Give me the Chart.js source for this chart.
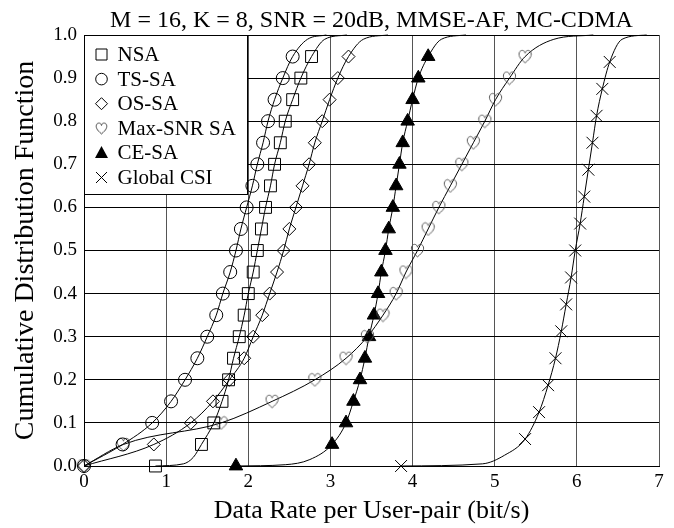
<!DOCTYPE html>
<html><head><meta charset="utf-8">
<script src="https://cdn.jsdelivr.net/npm/chart.js@4.4.1/dist/chart.umd.min.js"></script>
<style>html,body{margin:0;padding:0;background:#fff}#wrap{width:674px;height:528px}</style>
</head><body><div id="wrap"><canvas id="c" width="674" height="528"></canvas></div>
<script>
const titleText = 'M = 16, K = 8, SNR = 20dB, MMSE-AF, MC-CDMA';
const xTitle = 'Data Rate per User-pair (bit/s)';
const yTitle = 'Cumulative Distribution Function';
const xTickLabels = ['0','1','2','3','4','5','6','7'];
const yTickLabels = ['0.0','0.1','0.2','0.3','0.4','0.5','0.6','0.7','0.8','0.9','1.0'];
const seriesNames = ['NSA','TS-SA','OS-SA','Max-SNR SA','CE-SA','Global CSI'];

// CDF levels at which the markers sit
const cdfLevels = [0,0.05,0.1,0.15,0.2,0.25,0.3,0.35,0.4,0.45,0.5,0.55,0.6,0.65,0.7,0.75,0.8,0.85,0.9,0.95];
const globalLevels = [0,0.0625,0.125,0.1875,0.25,0.3125,0.375,0.4375,0.5,0.5625,0.625,0.6875,0.75,0.8125,0.875,0.9375];

// rates (bit/s) at the marker levels
const nsaRate    = [0.87,1.43,1.58,1.68,1.76,1.82,1.89,1.95,2.00,2.06,2.11,2.16,2.21,2.27,2.32,2.39,2.45,2.54,2.64,2.77];
const tsRate     = [0,0.47,0.83,1.06,1.23,1.38,1.50,1.61,1.69,1.78,1.85,1.91,1.98,2.05,2.11,2.18,2.24,2.32,2.42,2.54];
const osRate     = [0,0.85,1.30,1.57,1.77,1.95,2.06,2.17,2.26,2.35,2.43,2.50,2.58,2.66,2.74,2.81,2.90,2.99,3.09,3.22];
const maxSnrRate = [0,0.48,1.67,2.29,2.81,3.19,3.45,3.64,3.80,3.92,4.06,4.19,4.32,4.46,4.60,4.74,4.88,5.01,5.18,5.37];
const ceRate     = [1.85,3.02,3.19,3.28,3.36,3.42,3.47,3.53,3.58,3.62,3.67,3.71,3.76,3.80,3.84,3.88,3.94,4.00,4.07,4.19];
const globalRate = [3.86,5.37,5.54,5.65,5.74,5.81,5.87,5.93,5.98,6.04,6.09,6.14,6.19,6.24,6.31,6.40];

// unmarked tail points of each curve (rate, cdf)
const nsaTailRate = [1.21,1.33,2.93,3.20];      const nsaTailCdf = [0.005,0.02,0.99,1.0];
const tsTailRate = [2.72,2.95];                 const tsTailCdf = [0.99,1.0];
const osTailRate = [3.40,3.70];                 const osTailCdf = [0.99,1.0];
const maxSnrTailRate = [5.72,6.20];             const maxSnrTailCdf = [0.99,1.0];
const ceTailRate = [2.45,2.75,4.35,4.65];       const ceTailCdf = [0.003,0.015,0.99,1.0];
const globalTailRate = [4.85,5.12,6.55,6.85];   const globalTailCdf = [0.005,0.025,0.99,1.0];

function makeData(rates, levels, tr, tc) {
  const pts = rates.map((r, i) => ({x: r, y: levels[i], m: true}));
  tr.forEach((r, i) => pts.push({x: r, y: tc[i], m: false}));
  pts.sort((a, b) => a.x - b.x || a.y - b.y);
  return pts;
}

function heartCanvas(s, color) {
  const c = document.createElement('canvas'); c.width = s; c.height = s;
  const g = c.getContext('2d'); g.strokeStyle = color; g.lineWidth = 1;
  g.beginPath();
  g.moveTo(s/2, s*0.92);
  g.bezierCurveTo(s*0.12, s*0.62, s*0.02, s*0.38, s*0.14, s*0.18);
  g.bezierCurveTo(s*0.27, s*0.02, s*0.46, s*0.08, s/2, s*0.28);
  g.bezierCurveTo(s*0.54, s*0.08, s*0.73, s*0.02, s*0.86, s*0.18);
  g.bezierCurveTo(s*0.98, s*0.38, s*0.88, s*0.62, s/2, s*0.92);
  g.stroke();
  return c;
}
const heartImg = heartCanvas(15, '#555');
const heartLegend = heartCanvas(13, '#444');

const markerStyles = [
  {style: 'rect', r: 8.4, fill: 'rgba(0,0,0,0)'},
  {style: 'circle', r: 6.5, fill: 'rgba(0,0,0,0)'},
  {style: 'rectRot', r: 6.5, fill: 'rgba(0,0,0,0)'},
  {style: heartImg, r: 6, fill: 'rgba(0,0,0,0)'},
  {style: 'triangle', r: 7.8, fill: '#000'},
  {style: 'crossRot', r: 8.4, fill: 'rgba(0,0,0,0)'}
];

const allData = [
  makeData(nsaRate, cdfLevels, nsaTailRate, nsaTailCdf),
  makeData(tsRate, cdfLevels, tsTailRate, tsTailCdf),
  makeData(osRate, cdfLevels, osTailRate, osTailCdf),
  makeData(maxSnrRate, cdfLevels, maxSnrTailRate, maxSnrTailCdf),
  makeData(ceRate, cdfLevels, ceTailRate, ceTailCdf),
  makeData(globalRate, globalLevels, globalTailRate, globalTailCdf)
];

const datasets = allData.map((d, i) => ({
  label: seriesNames[i],
  data: d,
  borderColor: '#000',
  borderWidth: 1,
  cubicInterpolationMode: 'monotone',
  pointStyle: markerStyles[i].style,
  pointRadius: ctx => (ctx.raw && ctx.raw.m) ? markerStyles[i].r : 0,
  pointHoverRadius: ctx => (ctx.raw && ctx.raw.m) ? markerStyles[i].r : 0,
  pointBorderColor: '#000',
  pointBackgroundColor: markerStyles[i].fill,
  pointBorderWidth: 1,
  clip: false,
  fill: false
}));

const serif = '"Liberation Serif", "Times New Roman", serif';

function drawMarker(ctx, i, x, y) {
  ctx.save();
  ctx.strokeStyle = '#000'; ctx.fillStyle = '#000'; ctx.lineWidth = 1;
  ctx.beginPath();
  if (i === 0) { ctx.rect(x - 5.5, y - 5.5, 11, 11); ctx.stroke(); }
  else if (i === 1) { ctx.arc(x, y, 5.8, 0, Math.PI*2); ctx.stroke(); }
  else if (i === 2) { ctx.moveTo(x, y-6); ctx.lineTo(x+6, y); ctx.lineTo(x, y+6); ctx.lineTo(x-6, y); ctx.closePath(); ctx.stroke(); }
  else if (i === 3) { ctx.drawImage(heartLegend, x - 6.5, y - 6.5); }
  else if (i === 4) { ctx.moveTo(x, y-7); ctx.lineTo(x+6.5, y+5); ctx.lineTo(x-6.5, y+5); ctx.closePath(); ctx.fill(); }
  else { ctx.moveTo(x-5.5, y-5.5); ctx.lineTo(x+5.5, y+5.5); ctx.moveTo(x+5.5, y-5.5); ctx.lineTo(x-5.5, y+5.5); ctx.stroke(); }
  ctx.restore();
}

const legendPlugin = {
  id: 'boxLegend',
  beforeDatasetsDraw(chart) {
    const ctx = chart.ctx, a = chart.chartArea;
    const x0 = Math.round(a.left) + 0.5, y0 = Math.round(a.top) + 0.5;
    const w = 163, h = 159;
    ctx.save();
    ctx.fillStyle = '#fff';
    ctx.fillRect(x0, y0, w, h);
    ctx.strokeStyle = '#000'; ctx.lineWidth = 1;
    ctx.strokeRect(x0, y0, w, h);
    ctx.font = '21px ' + serif;
    ctx.textBaseline = 'middle';
    ctx.fillStyle = '#000';
    seriesNames.forEach((n, i) => {
      const y = y0 + 19 + i * 24.6;
      drawMarker(ctx, i, x0 + 17, y);
      ctx.fillText(n, x0 + 33, y + 1);
    });
    ctx.restore();
  },
  afterDraw(chart) {
    const ctx = chart.ctx, a = chart.chartArea;
    ctx.save();
    ctx.font = '24px ' + serif;
    ctx.fillStyle = '#000';
    ctx.textAlign = 'center';
    ctx.textBaseline = 'alphabetic';
    ctx.fillText(titleText, (a.left + a.right) / 2, 27);
    ctx.restore();
  }
};

new Chart(document.getElementById('c'), {
  type: 'line',
  data: {datasets},
  options: {
    responsive: false,
    animation: false,
    events: [],
    layout: {padding: {left: 0, right: 15, top: 35, bottom: 0}},
    plugins: {
      legend: {display: false},
      tooltip: {enabled: false},
      title: {display: false}
    },
    scales: {
      x: {
        type: 'linear', min: 0, max: 7,
        afterFit: s => { s.height = 62; },
        ticks: {stepSize: 1, color: '#000', padding: 5,
          font: {family: serif, size: 19},
          callback: (v) => xTickLabels[Math.round(v)] ?? ''},
        grid: {color: '#555', lineWidth: 1, drawTicks: false},
        border: {color: '#000', width: 1},
        title: {display: true, text: xTitle, color: '#000',
          font: {family: serif, size: 26, lineHeight: 1.2}, padding: {top: 0, bottom: 1}}
      },
      y: {
        type: 'linear', min: 0, max: 1,
        afterFit: s => { s.width = 84; },
        ticks: {stepSize: 0.1, color: '#000', padding: 7,
          font: {family: serif, size: 19},
          callback: (v) => yTickLabels[Math.round(v * 10)] ?? ''},
        grid: {color: '#000', lineWidth: 1, drawTicks: false},
        border: {color: '#000', width: 1},
        title: {display: true, text: yTitle, color: '#000',
          font: {family: serif, size: 28, lineHeight: 1.2}, padding: {top: 9, bottom: 0}}
      }
    }
  },
  plugins: [legendPlugin]
});
</script>
</body></html>
